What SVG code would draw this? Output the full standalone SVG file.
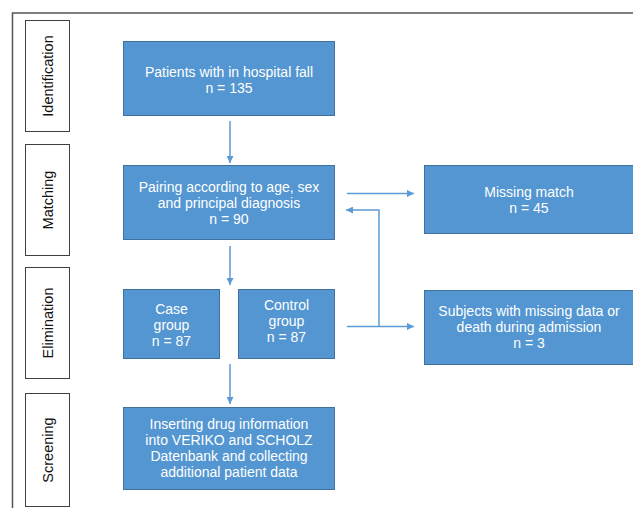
<svg xmlns="http://www.w3.org/2000/svg" width="633" height="508" viewBox="0 0 633 508">
  <defs>
    <style>
      .frame { fill: none; stroke: #555555; stroke-width: 1.5; }
      .lbl { fill: #ffffff; stroke: #404040; stroke-width: 1; }
      .lbltxt { font-family: "Liberation Sans", Arial, sans-serif; font-size: 14.5px; fill: #111111; text-anchor: middle; }
      .box { fill: #5396d1; stroke: #41719c; stroke-width: 1; }
      .txt { font-family: "Liberation Sans", Arial, sans-serif; font-size: 14px; fill: #ffffff; text-anchor: middle; }
      .conn { fill: none; stroke: #5b9bd5; stroke-width: 1.5; }
    </style>
    <marker id="ah" viewBox="0 0 10 10" refX="10" refY="5" markerWidth="7" markerHeight="7" markerUnits="userSpaceOnUse" orient="auto">
      <path d="M0,0 L10,5 L0,10 Z" fill="#5b9bd5"/>
    </marker>
  </defs>
  <rect width="633" height="508" fill="#ffffff"/>
  <path class="frame" d="M12.5,508 L12.5,13 L633,13"/>

  <g id="lbl-identification">
    <rect class="lbl" x="25.5" y="20.5" width="44" height="111"/>
    <text class="lbltxt" transform="translate(52.5,76) rotate(-90)">Identification</text>
  </g>
  <g id="lbl-matching">
    <rect class="lbl" x="25.5" y="144.5" width="44" height="111"/>
    <text class="lbltxt" transform="translate(52.5,200) rotate(-90)">Matching</text>
  </g>
  <g id="lbl-elimination">
    <rect class="lbl" x="25.5" y="267.5" width="44" height="111"/>
    <text class="lbltxt" transform="translate(52.5,323) rotate(-90)">Elimination</text>
  </g>
  <g id="lbl-screening">
    <rect class="lbl" x="25.5" y="393.5" width="44" height="113"/>
    <text class="lbltxt" transform="translate(52.5,450) rotate(-90)">Screening</text>
  </g>

  <g id="n-patients">
    <rect class="box" x="123.5" y="41.5" width="211" height="74"/>
    <text class="txt" x="229" y="76.5">Patients with in hospital fall</text>
    <text class="txt" x="229" y="92.5">n = 135</text>
  </g>
  <g id="n-pairing">
    <rect class="box" x="123.5" y="165.5" width="211" height="74"/>
    <text class="txt" x="229" y="192">Pairing according to age, sex</text>
    <text class="txt" x="229" y="208">and principal diagnosis</text>
    <text class="txt" x="229" y="224">n = 90</text>
  </g>
  <g id="n-missing">
    <rect class="box" x="424.5" y="165.5" width="215" height="68"/>
    <text class="txt" x="529" y="197">Missing match</text>
    <text class="txt" x="529" y="213">n = 45</text>
  </g>
  <g id="n-case">
    <rect class="box" x="123.5" y="289.5" width="96" height="69"/>
    <text class="txt" x="171.5" y="313.5">Case</text>
    <text class="txt" x="171.5" y="329.5">group</text>
    <text class="txt" x="171.5" y="345.5">n = 87</text>
  </g>
  <g id="n-control">
    <rect class="box" x="238.5" y="289.5" width="96" height="69"/>
    <text class="txt" x="286.5" y="309.5">Control</text>
    <text class="txt" x="286.5" y="325.5">group</text>
    <text class="txt" x="286.5" y="341.5">n = 87</text>
  </g>
  <g id="n-subjects">
    <rect class="box" x="424.5" y="290.5" width="215" height="74"/>
    <text class="txt" x="529" y="316">Subjects with missing data or</text>
    <text class="txt" x="529" y="332">death during admission</text>
    <text class="txt" x="529" y="348">n = 3</text>
  </g>
  <g id="n-screening">
    <rect class="box" x="123.5" y="407.5" width="211" height="82"/>
    <text class="txt" x="229" y="428.5">Inserting drug information</text>
    <text class="txt" x="229" y="444.5">into VERIKO and SCHOLZ</text>
    <text class="txt" x="229" y="460.5">Datenbank and collecting</text>
    <text class="txt" x="229" y="476.5">additional patient data</text>
  </g>

  <g id="connectors">
    <path class="conn" d="M230,121 L230,163" marker-end="url(#ah)"/>
    <path class="conn" d="M230,246 L230,285" marker-end="url(#ah)"/>
    <path class="conn" d="M230,364 L230,404" marker-end="url(#ah)"/>
    <path class="conn" d="M347,193.5 L414,193.5" marker-end="url(#ah)"/>
    <path class="conn" d="M347,326.5 L414,326.5" marker-end="url(#ah)"/>
    <path class="conn" d="M379,326.5 L379,210 L346,210" marker-end="url(#ah)"/>
  </g>
</svg>
